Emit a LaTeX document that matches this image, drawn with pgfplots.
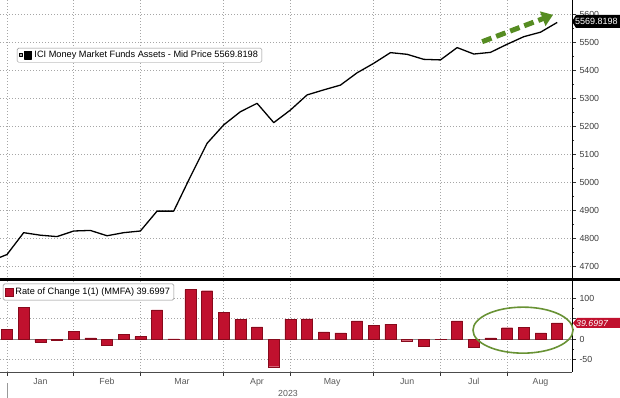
\documentclass[border=0pt]{standalone}
\usepackage{fontspec}
\setmainfont{Liberation Sans}
\usepackage{pgfplots}
\pgfplotsset{compat=1.18}
\usetikzlibrary{arrows.meta}
\definecolor{barred}{RGB}{192,17,46}
\definecolor{bardark}{RGB}{135,10,28}
\definecolor{arrowgreen}{RGB}{86,140,34}
\definecolor{ellgreen}{RGB}{104,146,52}
\definecolor{ticktext}{RGB}{60,60,60}
\begin{document}
\begin{tikzpicture}
\useasboundingbox (0pt,0pt) rectangle (620pt,398pt);
\pgfplotsset{
  common/.style={
    scale only axis, width=572pt,
    xmin=-0.42, xmax=33.89,
    axis y line*=right, axis x line*=bottom,
    tick align=outside,
    major tick length=4pt, minor tick length=2pt,
    minor y tick num=1,
    xtick={0,4,8,13,17,22,26,30}, xticklabels={},
    xmajorgrids, ymajorgrids,
    grid style={dash pattern=on 1pt off 2pt, black!35, line width=0.7pt},
    y axis line style={black, line width=0.8pt},
    tick style={black!80, line width=0.6pt},
    tick label style={font=\fontsize{8.8}{10}\selectfont, text=ticktext},
    /pgf/number format/assume math mode=true,
    /pgf/number format/1000 sep={},
    legend cell align=left,
  }
}
% ---------- top panel ----------
\begin{axis}[common,
  name=top, at={(0pt,118pt)}, anchor=south west, height=280pt,
  ymin=4650, ymax=5650,
  ytick={4700,4800,4900,5000,5100,5200,5300,5400,5500,5600},
  x axis line style={draw=none},
  x tick style={draw=none},
  legend style={at={(0.0297,0.829)}, anchor=north west, draw=black!45,
    rounded corners=1.5pt, fill=white, inner xsep=2pt, inner ysep=1pt,
    font=\fontsize{9.2}{10}\selectfont},
  legend image code/.code={
    \path[sharp corners, fill=black!30] (0pt,-1.5pt) rectangle (3pt,1.5pt);
    \path[sharp corners, fill=black] (4.5pt,-3.7pt) rectangle (12pt,3.7pt);
  },
]
\addplot[black, line width=1.3pt, line join=round] coordinates {
(-1,4717) (0,4741) (1,4819) (2,4810) (3,4805) (4,4825) (5,4827) (6,4808)
(7,4819) (8,4825) (9,4896) (10,4896) (11,5019) (12,5138) (13,5204)
(14,5251) (15,5281) (16,5212) (17,5257) (18,5311) (19,5329) (20,5346)
(21,5390) (22,5424) (23,5462) (24,5456) (25,5438) (26,5436) (27,5480)
(28,5457) (29,5463) (30,5492) (31,5519) (32,5535) (33,5569.8198)
};
\addlegendentry{ICI Money Market Funds Assets - Mid Price 5569.8198}
\draw[arrowgreen, line width=5pt, dash pattern=on 10pt off 5pt,
  -{Triangle[length=11pt,width=15pt]}]
  (axis cs:28.5,5501) -- (axis cs:32.75,5597);
\end{axis}
% ---------- bottom panel ----------
\begin{axis}[common,
  name=bot, at={(0pt,26pt)}, anchor=south west, height=91pt, clip=false,
  ymin=-81, ymax=143,
  ytick={-50,0,50,100},
  yticklabels={-50,0,,100},
  x axis line style={black!70, line width=0.6pt},
  extra x ticks={2,6,10.5,15,19.5,24,28,32},
  extra x tick labels={Jan,Feb,Mar,Apr,May,Jun,Jul,Aug},
  extra x tick style={major tick length=0pt, grid=none,
    tick label style={text=black!65, yshift=-3pt}},
  legend style={at={(0.005,0.97)}, anchor=north west, draw=black!45,
    rounded corners=1.5pt, fill=white, inner xsep=2pt, inner ysep=2pt,
    font=\fontsize{9.2}{10}\selectfont},
  legend image code/.code={
    \path[sharp corners, fill=barred] (0pt,-4pt) rectangle (8pt,4pt);
  },
]
\draw[black!45, line width=0.6pt] (axis cs:-0.42,0) -- (axis cs:33.89,0);
\addplot[ybar, bar width=11pt, fill=barred, draw=bardark, line width=0.4pt] coordinates {
(0,24) (1,78) (2,-7) (3,-2) (4,19) (5,3) (6,-16) (7,11) (8,6) (9,72)
(10,0.5) (11,122) (12,119) (13,66) (14,48) (15,30) (16,-68) (17,49)
(18,50) (19,18) (20,15) (21,45) (22,33) (23,37) (24,-4) (25,-17)
(26,-1) (27,45) (28,-20) (29,3) (30,28) (31,29) (32,15) (33,39.6997)
};
\addlegendentry{Rate of Change 1(1) (MMFA) 39.6997}
\draw[ellgreen, line width=1.6pt] (axis cs:30.95,22) ellipse [x radius=50pt, y radius=23pt];
\end{axis}
% separators and labels
\draw[black, line width=3pt] (0pt,118pt) -- (620pt,118pt);
\draw[black!40, line width=0.6pt] (7pt,0pt) -- (7pt,15pt);
\node[font=\fontsize{8.8}{10}\selectfont, text=black!65] at (288pt,5pt) {2023};
\fill[black] (576pt,370pt) -- (572pt,376.5pt) -- (576pt,383pt) -- (620pt,383pt) -- (620pt,370pt) -- cycle;
\node[text=white, anchor=west, inner sep=0pt,
  font=\fontsize{9}{10}\selectfont] at (575pt,376.5pt) {5569.8198};
\fill[barred] (577pt,70pt) -- (573pt,75pt) -- (577pt,80pt) -- (620pt,80pt) -- (620pt,70pt) -- cycle;
\node[text=white, anchor=west, inner sep=0pt,
  font=\fontsize{8.8}{10}\selectfont\itshape] at (576pt,75pt) {39.6997};
\end{tikzpicture}
\end{document}
